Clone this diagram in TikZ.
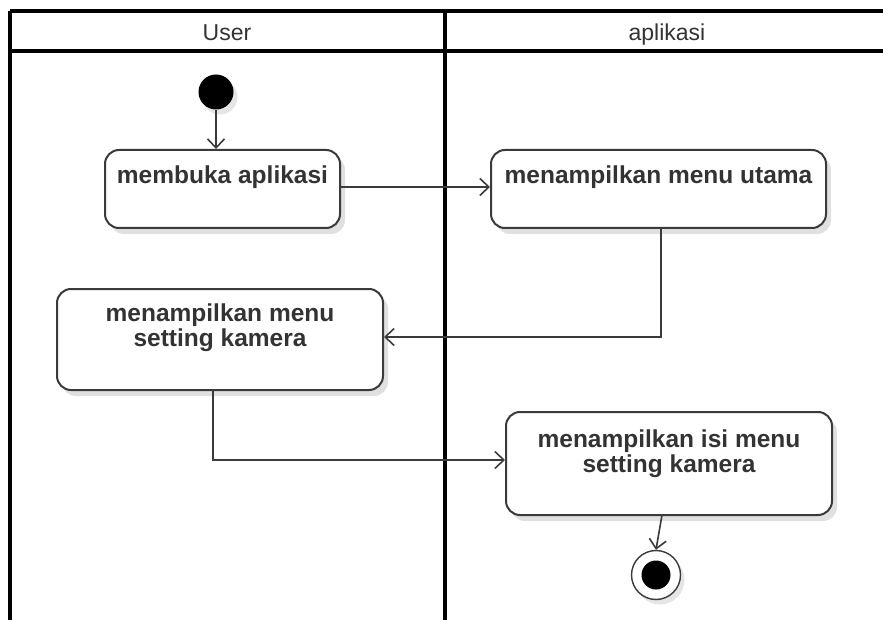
\documentclass[tikz,border=0pt]{standalone}
\usepackage{fontspec}
\setmainfont{Liberation Sans}
\usetikzlibrary{arrows.meta,shadows}
\definecolor{edge}{HTML}{3A3A3A}
\definecolor{txt}{HTML}{333333}
\tikzset{
  lane/.style={line width=3.5pt, draw=black},
  actbox/.style={draw=edge, line width=2pt, rounded corners=14pt, fill=white,
    inner sep=0pt,
    drop shadow={shadow xshift=5pt, shadow yshift=-6pt, opacity=0.12, fill=black}},
  acttext/.style={anchor=north, align=center, inner sep=0pt, text=txt,
    font=\fontsize{24.5}{25}\selectfont\bfseries},
  lanetitle/.style={anchor=base, text=txt, inner sep=0pt, font=\fontsize{23}{24}\selectfont},
  flow/.style={draw=edge, line width=1.6pt,
    -{Straight Barb[length=9pt, width=17pt, line width=1.6pt]}},
  startdot/.style={circle, fill=black, minimum size=35pt, inner sep=0pt,
    drop shadow={shadow xshift=4pt, shadow yshift=-5pt, opacity=0.1, fill=black}},
}
\begin{document}
\begin{tikzpicture}[x=1pt, y=-1pt]
\useasboundingbox (0,0) rectangle (883,620);

% swimlane frame
\draw[lane] (10,11) -- (883,11);
\draw[lane] (10,51) -- (883,51);
\draw[lane] (10,11) -- (10,620);
\draw[lane] (445,11) -- (445,620);
\node[lanetitle] (userlane) at (227,41) {User};
\node[lanetitle] (applane) at (667,41) {aplikasi};

% activities
\node[actbox, minimum width=235pt, minimum height=78pt] (open) at (222.5,189) {};
\node[acttext] (opentext) at ([yshift=-17pt]open.north) {membuka aplikasi};

\node[actbox, minimum width=335pt, minimum height=78pt] (mainmenu) at (658.5,189) {};
\node[acttext] (mainmenutext) at ([yshift=-17pt]mainmenu.north) {menampilkan menu utama};

\node[actbox, minimum width=326pt, minimum height=101pt] (camsetting) at (220,339.5) {};
\node[acttext] (camsettingtext) at ([yshift=-16pt]camsetting.north) {menampilkan menu\\setting kamera};

\node[actbox, minimum width=326pt, minimum height=103pt] (camcontent) at (669,463.5) {};
\node[acttext] (camcontenttext) at ([yshift=-19pt]camcontent.north) {menampilkan isi menu\\setting kamera};

% initial and final nodes
\node[startdot] (start) at (216,92) {};
\node[circle, draw=edge, line width=1.4pt, fill=white, minimum size=49pt, inner sep=0pt,
  drop shadow={shadow xshift=4pt, shadow yshift=-5pt, opacity=0.1, fill=black}] (finish) at (656,575) {};
\node[circle, fill=black, minimum size=29pt, inner sep=0pt] (finishdot) at (finish.center) {};

% control flows
\draw[flow] (start) -- (open.north -| start);
\draw[flow] (open.east |- 0,187) -- (mainmenu.west |- 0,187);
\coordinate (turnA) at (661,337);
\draw[flow] (mainmenu.south -| turnA) -- (turnA) -- (camsetting.east |- turnA);
\coordinate (turnB) at (213,460);
\draw[flow] (camsetting.south -| turnB) -- (turnB) -- (camcontent.west |- turnB);
\coordinate (leaveC) at (662,515);
\draw[flow] (leaveC) -- (finish.north);
\end{tikzpicture}
\end{document}
